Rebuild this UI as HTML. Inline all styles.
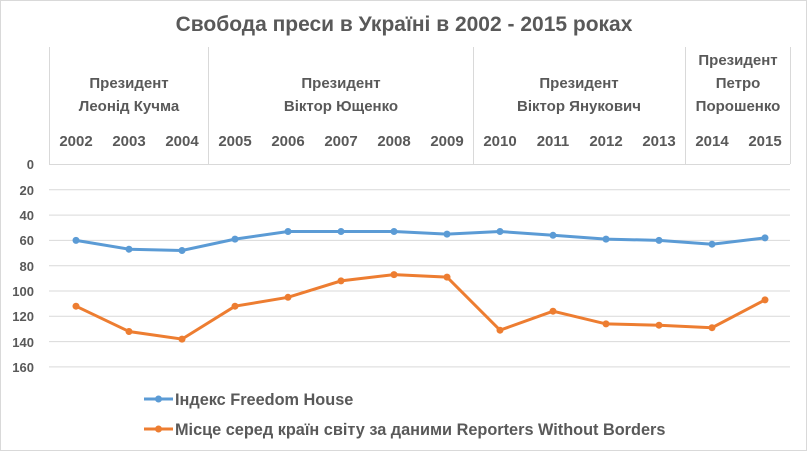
<!DOCTYPE html><html><head><style>body{margin:0;background:#fff}svg{display:block}text{font-family:"Liberation Sans",sans-serif;font-weight:bold;fill:#595959}</style></head><body>
<svg width="807" height="451" viewBox="0 0 807 451">
<rect x="0.5" y="0.5" width="806" height="450" fill="#fff" stroke="#d9d9d9"/>
<text x="404" y="31" text-anchor="middle" font-size="21">Свобода преси в Україні в 2002 - 2015 роках</text>
<g stroke="#d9d9d9" stroke-width="1">
<line x1="49.5" y1="47" x2="49.5" y2="164"/><line x1="208.5" y1="47" x2="208.5" y2="164"/><line x1="473.5" y1="47" x2="473.5" y2="164"/><line x1="685.5" y1="47" x2="685.5" y2="164"/><line x1="790.5" y1="47" x2="790.5" y2="164"/>
<line x1="49" y1="164.5" x2="790" y2="164.5"/><line x1="49" y1="189.8" x2="790" y2="189.8"/><line x1="49" y1="215.1" x2="790" y2="215.1"/><line x1="49" y1="240.4" x2="790" y2="240.4"/><line x1="49" y1="265.7" x2="790" y2="265.7"/><line x1="49" y1="291" x2="790" y2="291"/><line x1="49" y1="316.3" x2="790" y2="316.3"/><line x1="49" y1="341.6" x2="790" y2="341.6"/><line x1="49" y1="366.9" x2="790" y2="366.9"/>
</g>
<g font-size="15" text-anchor="middle">
<text x="129" y="88">Президент</text><text x="129" y="111">Леонід Кучма</text>
<text x="341" y="88">Президент</text><text x="341" y="111">Віктор Ющенко</text>
<text x="579" y="88">Президент</text><text x="579" y="111">Віктор Янукович</text>
<text x="738" y="65">Президент</text><text x="738" y="88">Петро</text><text x="738" y="111">Порошенко</text>
<text x="76" y="146">2002</text><text x="129" y="146">2003</text><text x="182" y="146">2004</text><text x="235" y="146">2005</text><text x="288" y="146">2006</text><text x="341" y="146">2007</text><text x="394" y="146">2008</text><text x="447" y="146">2009</text><text x="500" y="146">2010</text><text x="553" y="146">2011</text><text x="606" y="146">2012</text><text x="659" y="146">2013</text><text x="712" y="146">2014</text><text x="765" y="146">2015</text>
</g>
<g font-size="13" text-anchor="end">
<text x="34" y="169">0</text><text x="34" y="195">20</text><text x="34" y="220">40</text><text x="34" y="245">60</text><text x="34" y="271">80</text><text x="34" y="296">100</text><text x="34" y="321">120</text><text x="34" y="347">140</text><text x="34" y="372">160</text>
</g>
<g fill="#5b9bd5" stroke="#5b9bd5" stroke-width="3">
<polyline fill="none" points="76,240.4 129,249.2 182,250.5 235,239.1 288,231.5 341,231.5 394,231.5 447,234.1 500,231.5 553,235.3 606,239.1 659,240.4 712,244.2 765,237.9"/>
<g stroke="none"><circle cx="76" cy="240.4" r="3.5"/><circle cx="129" cy="249.2" r="3.5"/><circle cx="182" cy="250.5" r="3.5"/><circle cx="235" cy="239.1" r="3.5"/><circle cx="288" cy="231.5" r="3.5"/><circle cx="341" cy="231.5" r="3.5"/><circle cx="394" cy="231.5" r="3.5"/><circle cx="447" cy="234.1" r="3.5"/><circle cx="500" cy="231.5" r="3.5"/><circle cx="553" cy="235.3" r="3.5"/><circle cx="606" cy="239.1" r="3.5"/><circle cx="659" cy="240.4" r="3.5"/><circle cx="712" cy="244.2" r="3.5"/><circle cx="765" cy="237.9" r="3.5"/></g>
</g>
<g fill="#ed7d31" stroke="#ed7d31" stroke-width="3">
<polyline fill="none" points="76,306.2 129,331.5 182,339.1 235,306.2 288,297.3 341,280.9 394,274.6 447,277.1 500,330.2 553,311.2 606,323.9 659,325.2 712,327.7 765,299.9"/>
<g stroke="none"><circle cx="76" cy="306.2" r="3.5"/><circle cx="129" cy="331.5" r="3.5"/><circle cx="182" cy="339.1" r="3.5"/><circle cx="235" cy="306.2" r="3.5"/><circle cx="288" cy="297.3" r="3.5"/><circle cx="341" cy="280.9" r="3.5"/><circle cx="394" cy="274.6" r="3.5"/><circle cx="447" cy="277.1" r="3.5"/><circle cx="500" cy="330.2" r="3.5"/><circle cx="553" cy="311.2" r="3.5"/><circle cx="606" cy="323.9" r="3.5"/><circle cx="659" cy="325.2" r="3.5"/><circle cx="712" cy="327.7" r="3.5"/><circle cx="765" cy="299.9" r="3.5"/></g>
</g>
<line x1="144" y1="399" x2="173" y2="399" stroke="#5b9bd5" stroke-width="3"/><circle cx="158.5" cy="399" r="3.5" fill="#5b9bd5"/>
<text x="175" y="405" font-size="16.3">Індекс Freedom House</text>
<line x1="144" y1="429" x2="173" y2="429" stroke="#ed7d31" stroke-width="3"/><circle cx="158.5" cy="429" r="3.5" fill="#ed7d31"/>
<text x="175" y="435" font-size="16.3">Місце серед країн світу за даними Reporters Without Borders</text>
</svg></body></html>
